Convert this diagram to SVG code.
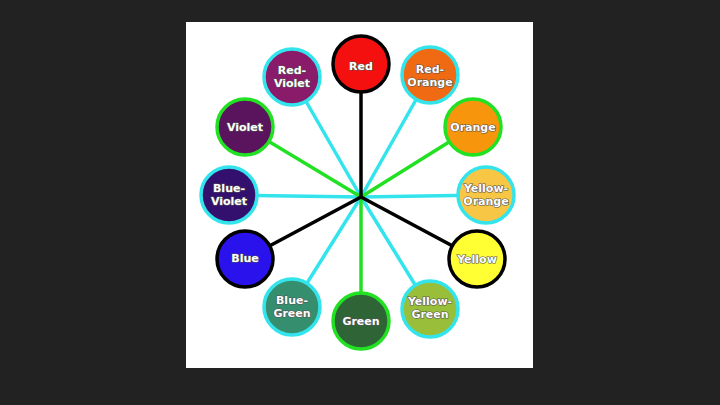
<svg xmlns="http://www.w3.org/2000/svg" width="720" height="405" viewBox="0 0 720 405">
<style>
.t{font-family:"DejaVu Sans","Liberation Sans",sans-serif;font-weight:bold;font-size:11px;fill:#fff;stroke:#555;stroke-width:1.2px;paint-order:stroke;text-anchor:middle}
.p{stroke:#000;stroke-width:3.5}
.s{stroke:#22e022;stroke-width:3.5}
.q{stroke:#33e4ec;stroke-width:3.5}
</style>
<rect width="720" height="405" fill="#222"/>
<rect x="186" y="22" width="347" height="346" fill="#fff"/>
<g id="connectors" stroke-linecap="round">
<line class="q" x1="361" y1="197" x2="430" y2="75"/>
<line class="q" x1="361" y1="197" x2="292" y2="77"/>
<line class="q" x1="361" y1="197" x2="486" y2="195"/>
<line class="q" x1="361" y1="197" x2="229" y2="195"/>
<line class="q" x1="361" y1="197" x2="430" y2="309"/>
<line class="q" x1="361" y1="197" x2="292" y2="307"/>
<line class="s" x1="361" y1="197" x2="473" y2="127"/>
<line class="s" x1="361" y1="197" x2="245" y2="127"/>
<line class="s" x1="361" y1="197" x2="361" y2="321"/>
<line class="p" x1="361" y1="197" x2="361" y2="64"/>
<line class="p" x1="361" y1="197" x2="477" y2="259"/>
<line class="p" x1="361" y1="197" x2="245" y2="259"/>
</g>
<g id="red"><circle cx="361" cy="64" r="28" fill="#f51010" class="p"/><text class="t" x="361" y="70">Red</text></g>
<g id="red-orange"><circle cx="430" cy="75" r="28" fill="#f06a14" class="q"/><text class="t" x="430" y="73">Red-</text><text class="t" x="430" y="86">Orange</text></g>
<g id="orange"><circle cx="473" cy="127" r="28" fill="#f7960c" class="s"/><text class="t" x="473" y="131">Orange</text></g>
<g id="yellow-orange"><circle cx="486" cy="195" r="28" fill="#f7c645" class="q"/><text class="t" x="486" y="192">Yellow-</text><text class="t" x="486" y="205">Orange</text></g>
<g id="yellow"><circle cx="477" cy="259" r="28" fill="#ffff33" class="p"/><text class="t" x="477" y="263">Yellow</text></g>
<g id="yellow-green"><circle cx="430" cy="309" r="28" fill="#99bf3a" class="q"/><text class="t" x="430" y="305">Yellow-</text><text class="t" x="430" y="318">Green</text></g>
<g id="green"><circle cx="361" cy="321" r="28" fill="#2f6436" class="s"/><text class="t" x="361" y="325">Green</text></g>
<g id="blue-green"><circle cx="292" cy="307" r="28" fill="#358f6e" class="q"/><text class="t" x="292" y="304">Blue-</text><text class="t" x="292" y="317">Green</text></g>
<g id="blue"><circle cx="245" cy="259" r="28" fill="#2a12ec" class="p"/><text class="t" x="245" y="262">Blue</text></g>
<g id="blue-violet"><circle cx="229" cy="195" r="28" fill="#33106e" class="q"/><text class="t" x="229" y="192">Blue-</text><text class="t" x="229" y="205">Violet</text></g>
<g id="violet"><circle cx="245" cy="127" r="28" fill="#5a145e" class="s"/><text class="t" x="245" y="131">Violet</text></g>
<g id="red-violet"><circle cx="292" cy="77" r="28" fill="#8a1a6a" class="q"/><text class="t" x="292" y="74">Red-</text><text class="t" x="292" y="87">Violet</text></g>
</svg>
